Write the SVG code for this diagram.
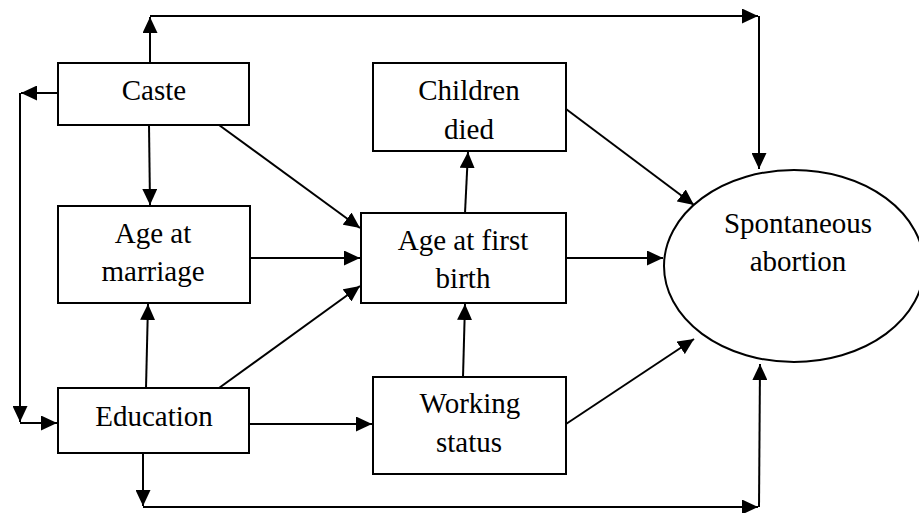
<svg xmlns="http://www.w3.org/2000/svg" width="919" height="513" viewBox="0 0 919 513">
<style>
.box{fill:#fff;stroke:#000;stroke-width:2}
.ell{fill:#fff;stroke:#000;stroke-width:2}
.t{font-family:"Liberation Serif","Times New Roman",serif;font-size:29px;fill:#000;text-anchor:middle}
.c{fill:none;stroke:#000;stroke-width:2}
.a{marker-end:url(#arr)}
</style>
<defs>
<marker id="arr" markerUnits="userSpaceOnUse" markerWidth="16" markerHeight="15" refX="16" refY="7.5" orient="auto">
<path d="M0,0 L16,7.5 L0,15 z" fill="#000"/>
</marker>
</defs>
<rect width="919" height="513" fill="#fff"/>
<g id="connectors">
<polyline class="c a" points="150,63 150,17"/>
<polyline class="c a" points="150,16 758,16"/>
<polyline class="c a" points="759,16 759,169"/>
<polyline class="c a" points="58,93 21,93"/>
<polyline class="c a" points="20,93 20,422"/>
<polyline class="c a" points="20,423 57,423"/>
<polyline class="c a" points="143,453 143,506"/>
<polyline class="c a" points="143,507 758,507"/>
<polyline class="c a" points="759,507 760,364"/>
<line class="c a" x1="149" y1="125" x2="150" y2="205"/>
<line class="c a" x1="146" y1="388" x2="148" y2="304"/>
<line class="c a" x1="219" y1="125" x2="360" y2="228"/>
<line class="c a" x1="250" y1="258" x2="360" y2="258"/>
<line class="c a" x1="219" y1="388" x2="360" y2="286"/>
<line class="c a" x1="249" y1="424" x2="372" y2="424"/>
<line class="c a" x1="465" y1="213" x2="468" y2="152"/>
<line class="c a" x1="463" y1="377" x2="465" y2="304"/>
<line class="c a" x1="566" y1="109" x2="694" y2="205"/>
<line class="c a" x1="566" y1="258" x2="663" y2="258"/>
<line class="c a" x1="566" y1="424" x2="694" y2="339"/>
</g>
<g id="caste">
<rect class="box" x="58" y="63" width="191" height="62"/>
<text class="t" x="154" y="100">Caste</text>
</g>
<g id="age-at-marriage">
<rect class="box" x="58" y="206" width="192" height="97"/>
<text class="t" x="153" y="243">Age at</text>
<text class="t" x="153" y="281">marriage</text>
</g>
<g id="education">
<rect class="box" x="58" y="388" width="191" height="65"/>
<text class="t" x="154" y="426">Education</text>
</g>
<g id="children-died">
<rect class="box" x="373" y="63" width="193" height="88"/>
<text class="t" x="469" y="100">Children</text>
<text class="t" x="469" y="139">died</text>
</g>
<g id="age-at-first-birth">
<rect class="box" x="361" y="213" width="205" height="90"/>
<text class="t" x="463" y="250">Age at first</text>
<text class="t" x="463" y="288">birth</text>
</g>
<g id="working-status">
<rect class="box" x="373" y="377" width="193" height="97"/>
<text class="t" x="470" y="413">Working</text>
<text class="t" x="469" y="452">status</text>
</g>
<g id="spontaneous-abortion">
<ellipse class="ell" cx="794" cy="266" rx="130" ry="96"/>
<text class="t" x="798" y="233">Spontaneous</text>
<text class="t" x="798" y="271">abortion</text>
</g>
</svg>
